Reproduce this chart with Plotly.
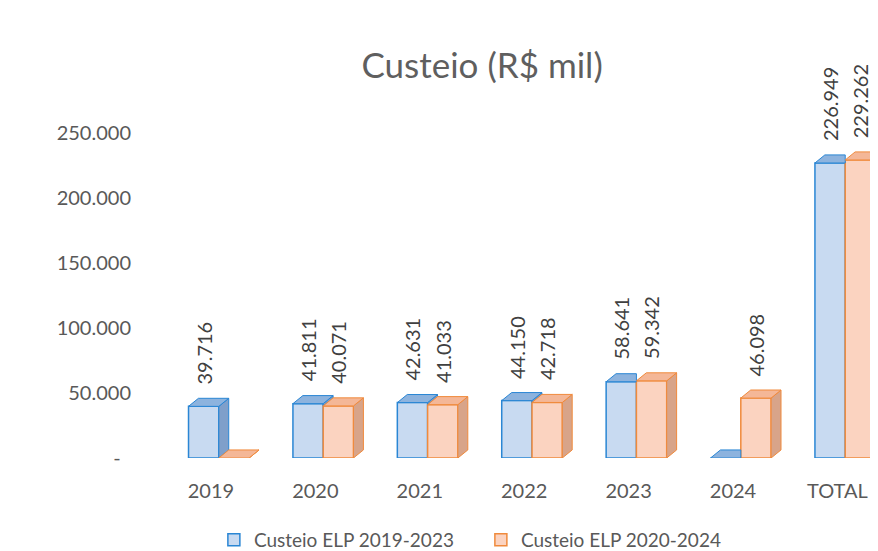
import plotly.graph_objects as go

categorias = ["2019", "2020", "2021", "2022", "2023", "2024", "TOTAL"]
elp_2019_2023 = [39716, 41811, 42631, 44150, 58641, 0, 226949]
elp_2020_2024 = [0, 40071, 41033, 42718, 59342, 46098, 229262]
nome_a = "Custeio ELP 2019-2023"
nome_b = "Custeio ELP 2020-2024"
y_ticks = [0, 50000, 100000, 150000, 200000, 250000]

# geometria das barras "3D"
w = 0.29
off_a = -0.215
off_b = off_a + w
dx = 0.095
dy = 6200

def fmt(v):
    return f"{v:,.0f}".replace(",", ".")

def poly(pts, xs, ys):
    for px, py in pts:
        xs.append(px)
        ys.append(py)
    xs.append(pts[0][0])
    ys.append(pts[0][1])
    xs.append(None)
    ys.append(None)

a_side_x, a_side_y, a_top_x, a_top_y = [], [], [], []
b_side_x, b_side_y, b_top_x, b_top_y = [], [], [], []
for i, (a, b) in enumerate(zip(elp_2019_2023, elp_2020_2024)):
    al, ar = i + off_a, i + off_a + w
    bl, br = i + off_b, i + off_b + w
    if a > b:
        poly([(ar, b), (ar + dx, b + dy), (ar + dx, a + dy), (ar, a)], a_side_x, a_side_y)
    if b > a:
        poly([(al, a), (ar, a), (ar, a + dy), (al + dx, a + dy)], a_top_x, a_top_y)
    else:
        poly([(al, a), (ar, a), (ar + dx, a + dy), (al + dx, a + dy)], a_top_x, a_top_y)
    poly([(br, 0), (br + dx, dy), (br + dx, b + dy), (br, b)], b_side_x, b_side_y)
    poly([(bl, b), (br, b), (br + dx, b + dy), (bl + dx, b + dy)], b_top_x, b_top_y)

xs = list(range(len(categorias)))
fig = go.Figure()
fig.add_trace(go.Bar(x=xs, y=elp_2019_2023, name=nome_a, offset=off_a, width=w,
                     marker=dict(color="#c8daf1", line=dict(color="#2a86d4", width=1.5))))
fig.add_trace(go.Bar(x=xs, y=elp_2020_2024, name=nome_b, offset=off_b, width=w,
                     marker=dict(color="#fbd3c0", line=dict(color="#f08a3c", width=1.5))))

faces = [
    (a_side_x, a_side_y, "#7f9fca", "#2a86d4"),
    (a_top_x, a_top_y, "#8db3de", "#2a86d4"),
    (b_side_x, b_side_y, "#d8a489", "#f08a3c"),
    (b_top_x, b_top_y, "#f4b797", "#f08a3c"),
]
for fx, fy, fill, line in faces:
    fig.add_trace(go.Scatter(x=fx, y=fy, mode="lines", fill="toself", fillcolor=fill,
                             line=dict(color=line, width=1), showlegend=False,
                             hoverinfo="skip"))

for serie, off in [(elp_2019_2023, off_a), (elp_2020_2024, off_b)]:
    for i, v in enumerate(serie):
        if v:
            fig.add_annotation(x=i + off + w / 2, y=v, text=fmt(v), textangle=-90,
                               showarrow=False, yanchor="bottom", yshift=20,
                               font=dict(size=20, color="#404040"))

fig.update_layout(
    width=878, height=551,
    margin=dict(l=142, r=8, t=60, b=101, autoexpand=False),
    paper_bgcolor="white", plot_bgcolor="white",
    font=dict(family="Lato", color="#595959", size=20),
    title=dict(text="Custeio (R$ mil)", x=0.54, xanchor="center", y=0.895, yanchor="middle",
               font=dict(size=35, color="#5f5f5f")),
    barmode="overlay",
    showlegend=True,
    legend=dict(orientation="h", x=0.4545, xanchor="center", y=-0.21, yanchor="middle",
                font=dict(size=19, color="#595959"), entrywidth=222),
)
fig.update_xaxes(range=[-0.584, 6.389], tickvals=xs, ticktext=categorias,
                 showgrid=False, zeroline=False, showline=False, ticklabelstandoff=19)
fig.update_yaxes(range=[0, 300000], tickvals=y_ticks,
                 ticktext=["-\u00a0\u00a0"] + [fmt(v) for v in y_ticks[1:]],
                 showgrid=False, zeroline=False, showline=False, ticklabelstandoff=18)

fig.write_html("out.html")
